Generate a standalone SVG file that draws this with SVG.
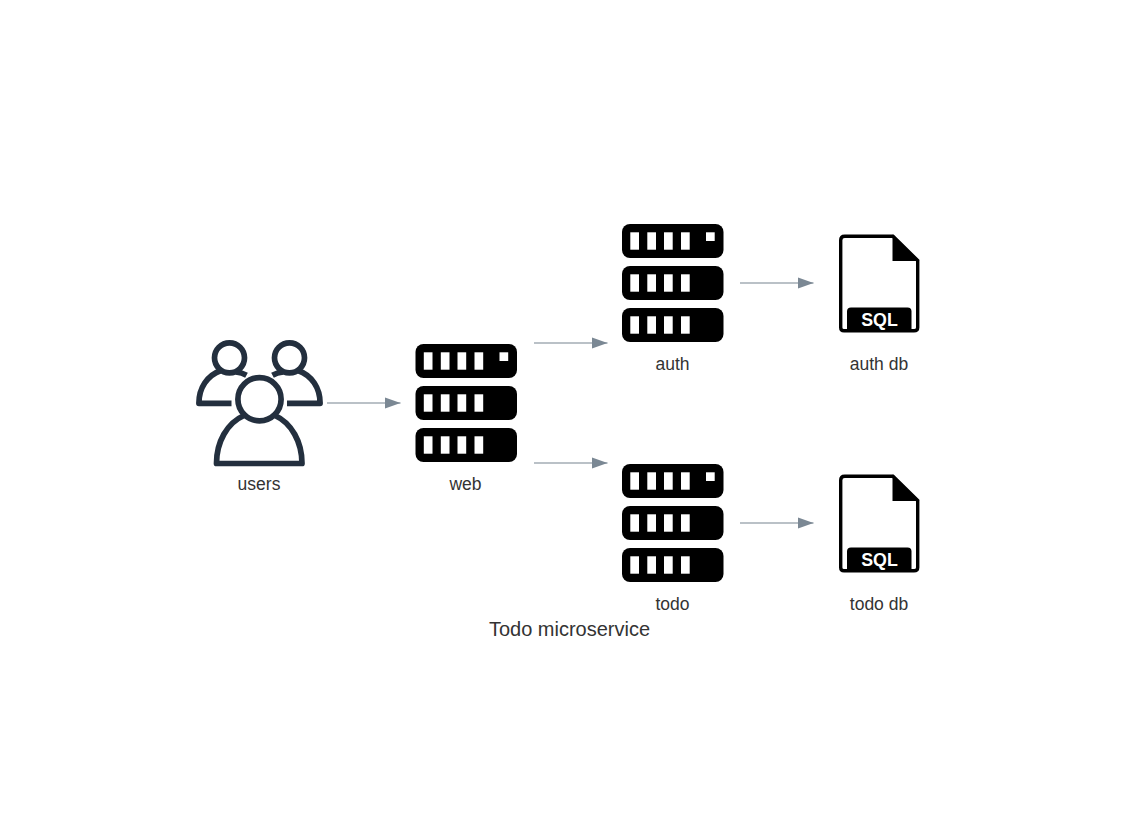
<svg xmlns="http://www.w3.org/2000/svg" width="1139" height="840" viewBox="0 0 1139 840">
<style>
text{font-family:"Liberation Sans",Arial,sans-serif;fill:#333;text-anchor:middle}
.lb{font-size:17.5px}
.ln{fill:none;stroke:#76838f;stroke-width:1.2}
.us{fill:none;stroke:#232f3e;stroke-width:5.7;stroke-linejoin:round}
.slot{fill:#fff}
</style>
<defs>
<marker id="ah" markerUnits="userSpaceOnUse" markerWidth="17" markerHeight="12" refX="16" refY="6" orient="auto"><path d="M0 0.300L16 6L0 11.700Z" fill="#7b8894"/></marker>
<g id="server">
<rect x="0" y="0" width="101.500" height="34" rx="8" fill="#000"/>
<rect x="0" y="42" width="101.500" height="34" rx="8" fill="#000"/>
<rect x="0" y="84" width="101.500" height="34" rx="8" fill="#000"/>
<g class="slot">
<rect x="8.300" y="8.300" width="8.700" height="17.400"/><rect x="25.300" y="8.300" width="8.700" height="17.400"/><rect x="42" y="8.300" width="8.700" height="17.400"/><rect x="59" y="8.300" width="8.700" height="17.400"/><rect x="84" y="8.300" width="8.700" height="8.700"/>
<rect x="8.300" y="50.300" width="8.700" height="17.400"/><rect x="25.300" y="50.300" width="8.700" height="17.400"/><rect x="42" y="50.300" width="8.700" height="17.400"/><rect x="59" y="50.300" width="8.700" height="17.400"/>
<rect x="8.300" y="92.300" width="8.700" height="17.400"/><rect x="25.300" y="92.300" width="8.700" height="17.400"/><rect x="42" y="92.300" width="8.700" height="17.400"/><rect x="59" y="92.300" width="8.700" height="17.400"/>
</g>
</g>
<g id="file">
<path d="M5.700 1.700H54L78.700 26V93Q78.700 96.300 75 96.300H5Q1.700 96.300 1.700 93V5.700Q1.700 1.700 5.700 1.700Z" fill="#fff" stroke="#000" stroke-width="3.400"/>
<path d="M53.500 0L80.400 26.500H53.500Z" fill="#000"/>
<path d="M8 97V77Q8 73 12 73H68.500Q72.500 73 72.500 77V97Z" fill="#000"/>
</g>
</defs>
<g id="connectors">
<path class="ln" marker-end="url(#ah)" d="M327 403H400.500"/>
<path class="ln" marker-end="url(#ah)" d="M534 343H607.500"/>
<path class="ln" marker-end="url(#ah)" d="M534 463H607.500"/>
<path class="ln" marker-end="url(#ah)" d="M740 283H813.500"/>
<path class="ln" marker-end="url(#ah)" d="M740 523H813.500"/>
</g>
<g id="users">
<path class="us" d="M231.500 403.300H198.900C198.900 388 207 375.500 221 370.500M236 372Q242 372.800 246.500 375.200"/>
<path class="us" d="M287 403.300H320.100C320.100 388 312 375.500 298 370.500M283 372Q277 372.800 272.500 375.200"/>
<circle class="us" cx="229.500" cy="357.800" r="15"/>
<circle class="us" cx="289.500" cy="357.800" r="15"/>
<path class="us" d="M244 415.500C227 423 216.500 442 216.500 463.500H302C302 442 291.500 423 275 415.500"/>
<circle class="us" cx="259.500" cy="399.200" r="21.600"/>
<text class="lb" x="259" y="490">users</text>
</g>
<g id="web"><use href="#server" x="415.500" y="344"/><text class="lb" x="465.500" y="490">web</text></g>
<g id="auth"><use href="#server" x="622" y="224"/><text class="lb" x="672.500" y="370">auth</text></g>
<g id="todo"><use href="#server" x="622" y="464"/><text class="lb" x="672.500" y="610">todo</text></g>
<g id="auth-db"><use href="#file" x="839" y="234.500"/><text x="879.500" y="325.500" font-size="17.800" font-weight="700" style="fill:#fff">SQL</text><text class="lb" x="879" y="370">auth db</text></g>
<g id="todo-db"><use href="#file" x="839" y="474.500"/><text x="879.500" y="565.500" font-size="17.800" font-weight="700" style="fill:#fff">SQL</text><text class="lb" x="879" y="610">todo db</text></g>
<text id="title" x="569.500" y="636" font-size="20">Todo microservice</text>
</svg>
